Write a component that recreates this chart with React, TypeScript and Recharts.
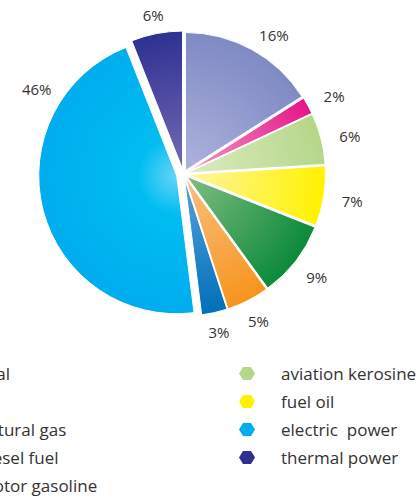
import React from 'react';
import { PieChart, Pie, Cell, Sector, Legend } from 'recharts';

// ---- data ----
const categories = ['coal', 'oil', 'aviation kerosine', 'fuel oil', 'natural gas', 'diesel fuel', 'motor gasoline', 'electric  power', 'thermal power'];
const shares = [16, 2, 6, 7, 9, 5, 3, 46, 6];
const legendOrder = ['coal', 'oil', 'natural gas', 'diesel fuel', 'motor gasoline', 'aviation kerosine', 'fuel oil', 'electric  power', 'thermal power'];

// ---- styles ----
const CX = 183.5;
const CY = 174;
const R = 138;
const FONT = '"Open Sans", "Noto Sans", sans-serif';

const gradients: Record<string, { inner: string; mid?: string; outer: string; midAt?: number }> = {
  'coal': { inner: '#aeb3dc', outer: '#7f8ac4' },
  'oil': { inner: '#f59cc4', outer: '#e5158a' },
  'aviation kerosine': { inner: '#dcebc2', outer: '#b5d789' },
  'fuel oil': { inner: '#fff6a0', outer: '#fff200' },
  'natural gas': { inner: '#82bd82', outer: '#0b8a3b' },
  'diesel fuel': { inner: '#f9c081', outer: '#f7941d' },
  'motor gasoline': { inner: '#5aa0da', outer: '#0070ba' },
  'electric  power': { inner: '#6ad4f7', mid: '#00bdf1', midAt: 0.28, outer: '#00adee' },
  'thermal power': { inner: '#7469b5', outer: '#2e3192' },
};
const legendColors: Record<string, string> = {
  'coal': '#8f99cc',
  'oil': '#e6178b',
  'aviation kerosine': '#b5d789',
  'fuel oil': '#fff200',
  'natural gas': '#0b8a3b',
  'diesel fuel': '#f7941d',
  'motor gasoline': '#0070ba',
  'electric  power': '#00adee',
  'thermal power': '#2e3192',
};
const explode: Record<string, number> = {
  'electric  power': 7,
  'thermal power': 5,
};
// label placement tweaks (degrees), otherwise labels sit at the slice mid-angle
const labelAngle: Record<string, number> = {
  'coal': 57,
  'oil': 27.5,
  'aviation kerosine': 13,
  'electric  power': 150,
};

const data = categories.map((name, i) => ({ name, value: shares[i] }));

const ExplodedSector = (props: any) => {
  const name = props.name ?? props.payload?.name;
  const d = explode[name] ?? 4;
  const rad = (-props.midAngle * Math.PI) / 180;
  const dx = d * Math.cos(rad);
  const dy = d * Math.sin(rad);
  return (
    <g transform={`translate(${dx},${dy})`}>
      <Sector {...props} />
    </g>
  );
};

const renderLabel = (props: any) => {
  const { cx, cy, midAngle, outerRadius, value, name } = props;
  const ang = labelAngle[name] ?? midAngle;
  const rad = (-ang * Math.PI) / 180;
  const r = outerRadius + 22 + 11 * Math.abs(Math.cos(rad));
  const x = cx + r * Math.cos(rad);
  const y = cy + r * Math.sin(rad);
  return (
    <text x={x} y={y} textAnchor="middle" dominantBaseline="central" fill="#333" fontSize={15} fontFamily={FONT}>
      {`${value}%`}
    </text>
  );
};

const Hex = ({ color }: { color: string }) => (
  <svg width={16} height={13} style={{ flex: '0 0 auto', display: 'block' }}>
    <polygon points="0,6.5 4,0 12,0 16,6.5 12,13 4,13" fill={color} />
  </svg>
);

const renderLegend = (props: any) => {
  const payload: any[] = props.payload || [];
  const items = legendOrder.map((n) => {
    const p = payload.find((e) => e.value === n || e.payload?.name === n);
    return { name: n, color: legendColors[n] ?? p?.color };
  });
  return (
    <div
      style={{
        display: 'grid',
        gridAutoFlow: 'column',
        gridTemplateRows: 'repeat(5, 28px)',
        gridTemplateColumns: '303px 240px',
        fontFamily: FONT,
        fontSize: 17,
        color: '#333',
      }}
    >
      {items.map((it) => (
        <div key={it.name} style={{ display: 'flex', alignItems: 'center', whiteSpace: 'pre' }}>
          <Hex color={it.color} />
          <span style={{ marginLeft: 26 }}>{it.name}</span>
        </div>
      ))}
    </div>
  );
};

export default function App() {
  return (
    <div style={{ position: 'absolute', left: 0, top: 0, width: 420, height: 498, overflow: 'hidden', background: '#fff' }}>
      <PieChart width={420} height={498} margin={{ top: 0, right: 0, bottom: 0, left: 0 }}>
        <defs>
          {categories.map((n, i) => {
            const g = gradients[n];
            return (
              <radialGradient key={n} id={`grad-${i}`} gradientUnits="userSpaceOnUse" cx={CX} cy={CY} r={R} fx={CX} fy={CY}>
                <stop offset="0" stopColor={g.inner} />
                {g.mid ? <stop offset={g.midAt} stopColor={g.mid} /> : null}
                <stop offset="1" stopColor={g.outer} />
              </radialGradient>
            );
          })}
        </defs>
        <Pie
          data={data}
          dataKey="value"
          nameKey="name"
          cx={CX}
          cy={CY}
          outerRadius={R}
          startAngle={90}
          endAngle={-270}
          stroke="#fff"
          strokeWidth={1}
          isAnimationActive={false}
          label={renderLabel}
          labelLine={false}
          shape={ExplodedSector}
          inactiveShape={ExplodedSector}
          activeShape={ExplodedSector}
        >
          {data.map((d, i) => (
            <Cell key={d.name} fill={`url(#grad-${i})`} />
          ))}
        </Pie>
        <Legend
          content={renderLegend}
          wrapperStyle={{ left: -64, top: 359, width: 600, bottom: 'auto' }}
        />
      </PieChart>
    </div>
  );
}
